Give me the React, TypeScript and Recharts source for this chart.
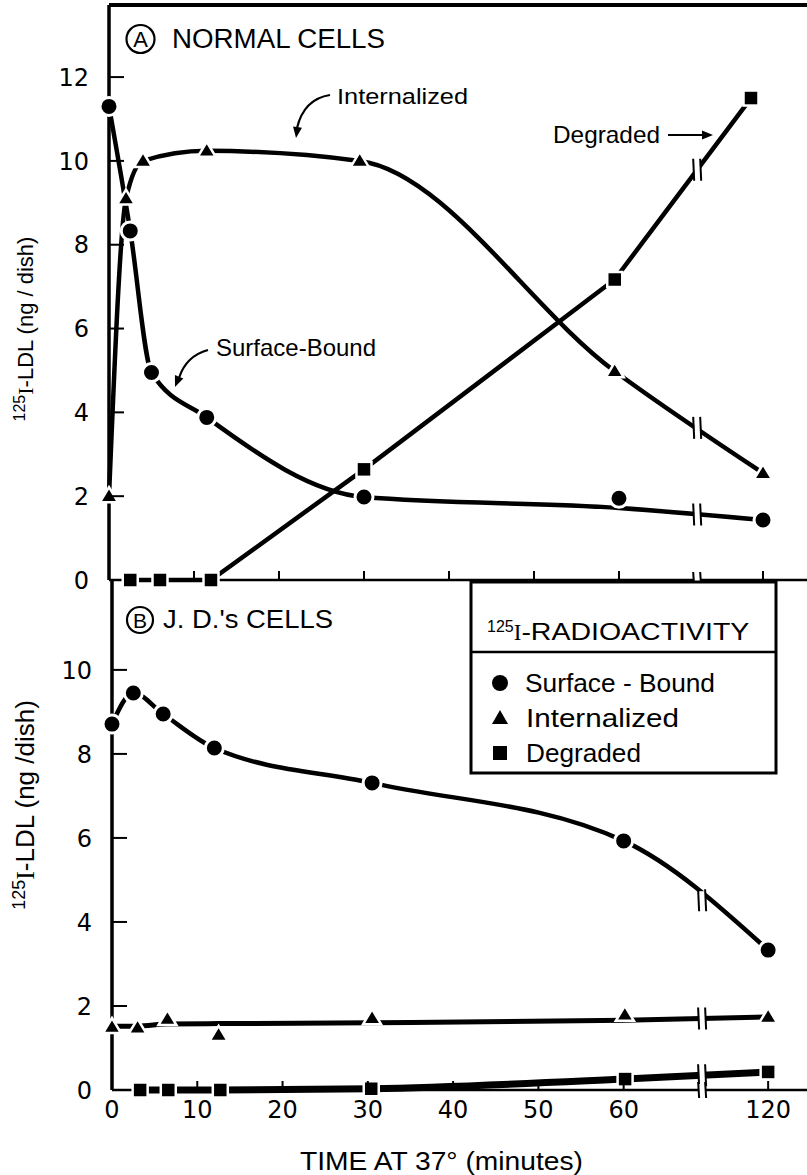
import React from "react";
import { LineChart, Line, XAxis, YAxis, ReferenceLine, ReferenceDot } from "recharts";

// broken time axis: after 60 min the scale is squeezed
const BREAK_AT = 60;
const SQUEEZE = 0.2824;
const BREAK_POS = 69.2;
const pos = (t: number) => (t <= BREAK_AT ? t : BREAK_AT + (t - BREAK_AT) * SQUEEZE);

const X_TICKS = [0, 10, 20, 30, 40, 50, 60, 120];
const Y_TICKS_A = [0, 2, 4, 6, 8, 10, 12];
const Y_TICKS_B = [0, 2, 4, 6, 8, 10];

// A: normal cells (measured points, and the hand-drawn curve where it leaves the points)
const surfaceTimesA = [0, 2.5, 5, 11.5, 30, 60, 120];
const surfaceA = [11.3, 8.33, 4.95, 3.88, 1.98, 1.95, 1.43];
const surfaceCurveA = [11.3, 8.33, 4.95, 3.88, 1.98, 1.72, 1.43];
const internalTimesA = [0, 2, 4, 11.5, 29.5, 59.5, 120];
const internalA = [2.0, 9.1, 10.0, 10.24, 10.0, 4.98, 2.55];
const degradedTimesA = [2.5, 6, 12, 30, 59.5, 115];
const degradedA = [0, 0, 0, 2.64, 7.17, 11.5];

// B: J.D.'s cells
const surfaceTimesB = [0, 2.5, 6, 12, 30.5, 60, 120];
const surfaceB = [8.71, 9.45, 8.95, 8.14, 7.31, 5.93, 3.33];
const internalTimesB = [0, 3, 6.5, 12.5, 30.5, 60.5, 120];
const internalB = [1.5, 1.48, 1.69, 1.31, 1.71, 1.79, 1.74];
const internalCurveB = [1.52, 1.52, 1.57, 1.58, 1.6, 1.66, 1.74];
const degradedTimesB = [3.3, 6.6, 12.7, 30.4, 60.6, 120];
const degradedB = [0, 0, 0, 0.03, 0.26, 0.43];

const rows = (times: number[], vals: number[]) => times.map((t, i) => ({ x: pos(t), y: vals[i] }));

const rowsSurfA = rows(surfaceTimesA, surfaceA);
const curveSurfA = rows(surfaceTimesA, surfaceCurveA);
const rowsIntA = rows(internalTimesA, internalA);
const rowsDegA = rows(degradedTimesA, degradedA);
const rowsSurfB = rows(surfaceTimesB, surfaceB);
const rowsIntB = rows(internalTimesB, internalB);
const curveIntB = rows(internalTimesB, internalCurveB);
const rowsDegB = rows(degradedTimesB, degradedB);

// where a drawn curve crosses the axis break
const breakY = (r: { x: number; y: number }[]) => {
  const a = r[r.length - 2];
  const b = r[r.length - 1];
  return a.y + ((b.y - a.y) * (BREAK_POS - a.x)) / (b.x - a.x);
};

const X_MAX_A = 82.12;
const X_MAX_B = 81.5;
const Y_MAX_A = 13.72;
const Y_MAX_B = 12.14;

const TICK_FONT = "DejaVu Sans";
const TEXT_FONT = "Liberation Sans";

const circleDot = (p: any) => {
  if (p.cx == null || p.cy == null) return <g key={p.index} />;
  return <circle key={p.index} cx={p.cx} cy={p.cy} r={9} fill="#000" stroke="#fff" strokeWidth={3} />;
};
const triangleDot = (p: any) => {
  if (p.cx == null || p.cy == null) return <g key={p.index} />;
  const { cx, cy } = p;
  return (
    <polygon
      key={p.index}
      points={`${cx},${cy - 9} ${cx - 9},${cy + 6} ${cx + 9},${cy + 6}`}
      fill="#000"
      stroke="#fff"
      strokeWidth={2.5}
    />
  );
};
const squareDot = (p: any) => {
  if (p.cx == null || p.cy == null) return <g key={p.index} />;
  return <rect key={p.index} x={p.cx - 7.5} y={p.cy - 7.5} width={15} height={15} fill="#000" stroke="#fff" strokeWidth={2.5} />;
};

const BreakMark = ({ cx, cy, h = 22 }: any) => (
  <g>
    <rect x={cx - 3} y={cy - h / 2 + 2} width={6} height={h - 4} fill="#fff" />
    <line x1={cx - 4} x2={cx - 3} y1={cy - h / 2} y2={cy + h / 2} stroke="#000" strokeWidth={2} />
    <line x1={cx + 3} x2={cx + 4} y1={cy - h / 2} y2={cy + h / 2} stroke="#000" strokeWidth={2} />
  </g>
);

const yTick = (p: any) => {
  const v = p.payload.value;
  return (
    <g>
      {v !== 0 && <line x1={p.x} x2={p.x + 15} y1={p.y} y2={p.y} stroke="#000" strokeWidth={2} />}
      <text x={p.x - 20} y={p.y} dy="0.36em" textAnchor="end" fontFamily={TICK_FONT} fontSize={24} fill="#000">
        {v}
      </text>
    </g>
  );
};

const makeXTick = (showLabel: boolean) => (p: any) => {
  const v = p.payload.value;
  if (Math.abs(v - BREAK_POS) < 1e-6) return <BreakMark cx={p.x} cy={p.y} h={16} />;
  const idx = X_TICKS.findIndex((t) => Math.abs(pos(t) - v) < 1e-6);
  return (
    <g>
      {v !== 0 && <line x1={p.x} x2={p.x} y1={p.y} y2={p.y - 9} stroke="#000" strokeWidth={2} />}
      {showLabel && (
        <text x={p.x} y={p.y + 19} dy="0.36em" textAnchor="middle" fontFamily={TICK_FONT} fontSize={24} fill="#000">
          {X_TICKS[idx]}
        </text>
      )}
    </g>
  );
};

const xTickPositions = [...X_TICKS.map(pos), BREAK_POS].sort((a, b) => a - b);

const curveProps = { type: "monotone" as const, stroke: "#000", strokeWidth: 4.5, dot: false, activeDot: false, isAnimationActive: false, dataKey: "y" };
const markerProps = { type: "linear" as const, stroke: "none", activeDot: false, isAnimationActive: false, dataKey: "y" };

const breakShape = (p: any) => <BreakMark cx={p.cx} cy={p.cy} />;

const Arrowhead = ({ x, y, angle }: { x: number; y: number; angle: number }) => (
  <polygon points="0,0 -11,-4.5 -11,4.5" fill="#000" transform={`translate(${x},${y}) rotate(${angle})`} />
);

export default function App() {
  return (
    <div style={{ position: "absolute", left: 0, top: 0, width: 807, height: 1175, background: "#fff", overflow: "hidden" }}>
      <div style={{ position: "absolute", left: 0, top: 0 }}>
        <LineChart width={807} height={600} margin={{ top: 5, right: 0, bottom: 0, left: 0 }}>
          <XAxis
            type="number"
            dataKey="x"
            domain={[0, X_MAX_A]}
            ticks={xTickPositions}
            interval={0}
            height={20}
            tickSize={0}
            tickMargin={0}
            tickLine={false}
            axisLine={{ stroke: "#000", strokeWidth: 2.5 }}
            tick={makeXTick(false)}
          />
          <YAxis
            type="number"
            domain={[0, Y_MAX_A]}
            ticks={Y_TICKS_A}
            interval={0}
            width={109}
            tickSize={0}
            tickMargin={0}
            tickLine={false}
            axisLine={{ stroke: "#000", strokeWidth: 3.5 }}
            tick={yTick}
          />
          <ReferenceLine y={Y_MAX_A} stroke="#000" strokeWidth={4} />
          <Line {...curveProps} data={rowsDegA} type="linear" />
          <Line {...curveProps} data={rowsIntA} />
          <Line {...curveProps} data={curveSurfA} />
          <Line {...markerProps} data={rowsDegA} dot={squareDot} />
          <Line {...markerProps} data={rowsIntA} dot={triangleDot} />
          <Line {...markerProps} data={rowsSurfA} dot={circleDot} />
          <ReferenceDot x={BREAK_POS} y={breakY(rowsDegA)} shape={breakShape} />
          <ReferenceDot x={BREAK_POS} y={breakY(rowsIntA)} shape={breakShape} />
          <ReferenceDot x={BREAK_POS} y={breakY(curveSurfA)} shape={breakShape} />
        </LineChart>
      </div>

      <div style={{ position: "absolute", left: 0, top: 580 }}>
        <LineChart width={807} height={595} margin={{ top: 0, right: 0, bottom: 0, left: 0 }}>
          <XAxis
            type="number"
            dataKey="x"
            domain={[0, X_MAX_B]}
            ticks={xTickPositions}
            interval={0}
            height={85}
            tickSize={0}
            tickMargin={0}
            tickLine={false}
            axisLine={{ stroke: "#000", strokeWidth: 2.5 }}
            tick={makeXTick(true)}
          />
          <YAxis
            type="number"
            domain={[0, Y_MAX_B]}
            ticks={Y_TICKS_B}
            interval={0}
            width={112}
            tickSize={0}
            tickMargin={0}
            tickLine={false}
            axisLine={{ stroke: "#000", strokeWidth: 3.5 }}
            tick={yTick}
          />
          <Line {...curveProps} data={rowsDegB} strokeWidth={7} />
          <Line {...curveProps} data={curveIntB} strokeWidth={5} />
          <Line {...curveProps} data={rowsSurfB} />
          <Line {...markerProps} data={rowsDegB} dot={squareDot} />
          <Line {...markerProps} data={rowsIntB} dot={triangleDot} />
          <Line {...markerProps} data={rowsSurfB} dot={circleDot} />
          <ReferenceDot x={BREAK_POS} y={breakY(rowsDegB)} shape={breakShape} />
          <ReferenceDot x={BREAK_POS} y={breakY(curveIntB)} shape={breakShape} />
          <ReferenceDot x={BREAK_POS} y={breakY(rowsSurfB)} shape={breakShape} />
        </LineChart>
      </div>

      <svg width={807} height={1175} style={{ position: "absolute", left: 0, top: 0, pointerEvents: "none" }}>
        <g fontFamily={TEXT_FONT} fill="#000">
          {/* panel titles */}
          <circle cx={140.5} cy={39} r={14} fill="none" stroke="#000" strokeWidth={2.2} />
          <text x={140.5} y={47} textAnchor="middle" fontSize={22}>A</text>
          <text x={172} y={48} fontSize={27} textLength={213} lengthAdjust="spacingAndGlyphs">NORMAL CELLS</text>

          <circle cx={140} cy={620} r={13} fill="none" stroke="#000" strokeWidth={2.2} />
          <text x={140} y={628} textAnchor="middle" fontSize={21}>B</text>
          <text x={163} y={628} fontSize={25} textLength={170} lengthAdjust="spacingAndGlyphs">J. D.'s CELLS</text>

          {/* curve annotations */}
          <text x={337} y={104} fontSize={22} textLength={131} lengthAdjust="spacingAndGlyphs">Internalized</text>
          <path d="M 330 95 Q 304 99 297 128" fill="none" stroke="#000" strokeWidth={2.2} />
          <Arrowhead x={296} y={138} angle={98} />

          <text x={553} y={143} fontSize={24} textLength={107} lengthAdjust="spacingAndGlyphs">Degraded</text>
          <line x1={668} y1={135} x2={704} y2={135} stroke="#000" strokeWidth={2.2} />
          <Arrowhead x={713} y={135} angle={0} />

          <text x={216} y={356} fontSize={24} textLength={160} lengthAdjust="spacingAndGlyphs">Surface-Bound</text>
          <path d="M 208 350 Q 186 356 179 378" fill="none" stroke="#000" strokeWidth={2.2} />
          <Arrowhead x={175} y={387} angle={112} />

          {/* y-axis titles */}
          <text transform="translate(33,329) rotate(-90)" textAnchor="middle" fontSize={22}>
            <tspan fontSize={16} dy={-8}>125</tspan>
            <tspan dy={8} fontFamily="Liberation Serif">I</tspan>
            <tspan>-LDL (ng / dish)</tspan>
          </text>
          <text transform="translate(34,805) rotate(-90)" textAnchor="middle" fontSize={26}>
            <tspan fontSize={18} dy={-9}>125</tspan>
            <tspan dy={9} fontFamily="Liberation Serif">I</tspan>
            <tspan>-LDL (ng /dish)</tspan>
          </text>

          {/* x-axis title */}
          <text x={300} y={1170} fontSize={25} textLength={283} lengthAdjust="spacingAndGlyphs">TIME AT 37° (minutes)</text>

          {/* legend */}
          <rect x={471} y={582} width={305} height={191} fill="#fff" stroke="#000" strokeWidth={3} />
          <line x1={471} x2={776} y1={652} y2={652} stroke="#000" strokeWidth={2.5} />
          <text x={487} y={640} fontSize={23}>
            <tspan fontSize={16} dy={-8}>125</tspan>
            <tspan dy={8} fontFamily="Liberation Serif">I</tspan>
            <tspan textLength={228} lengthAdjust="spacingAndGlyphs">-RADIOACTIVITY</tspan>
          </text>
          <circle cx={500} cy={683} r={8} fill="#000" />
          <text x={525} y={692} fontSize={25} textLength={190} lengthAdjust="spacingAndGlyphs">Surface - Bound</text>
          <polygon points="500,710 492,724 508,724" fill="#000" />
          <text x={526} y={727} fontSize={25} textLength={153} lengthAdjust="spacingAndGlyphs">Internalized</text>
          <rect x={493} y={746} width={14} height={14} fill="#000" />
          <text x={526} y={762} fontSize={25} textLength={115} lengthAdjust="spacingAndGlyphs">Degraded</text>
        </g>
      </svg>
    </div>
  );
}
